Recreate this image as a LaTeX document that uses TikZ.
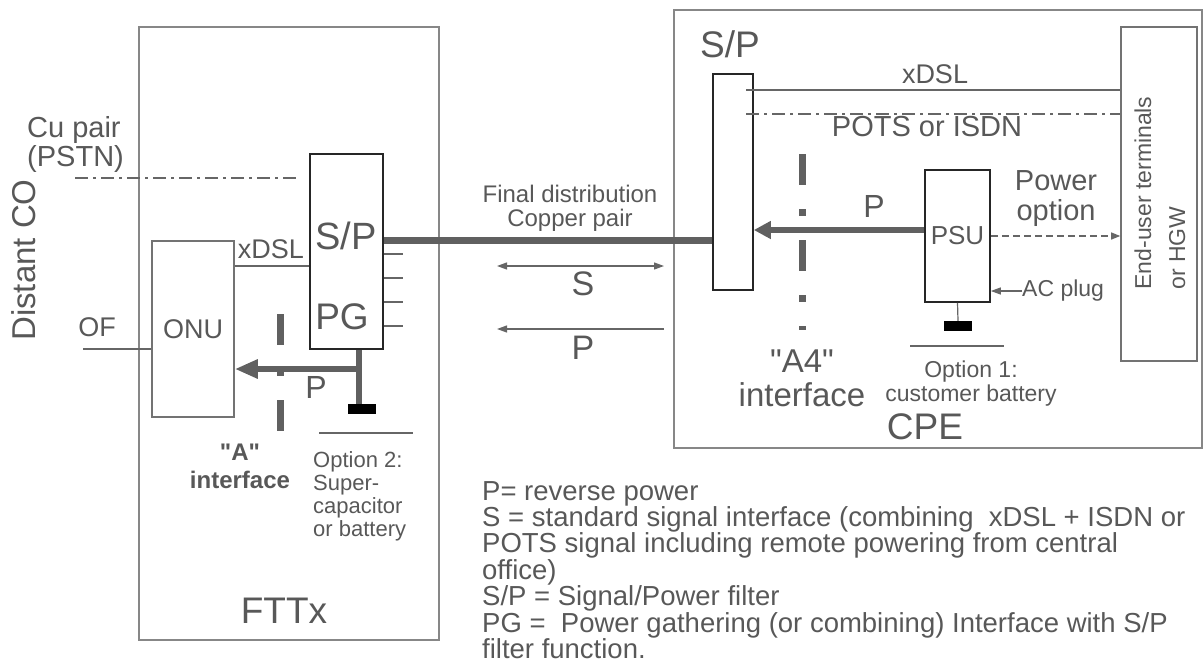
\documentclass[tikz,border=0pt]{standalone}
\usepackage{fontspec}
\setmainfont{Liberation Sans}[Ligatures=TeXOff]
\usetikzlibrary{positioning}
\usetikzlibrary{arrows.meta}
\definecolor{txtgray}{RGB}{88,88,88}
\definecolor{framegray}{RGB}{135,135,135}
\definecolor{powergray}{RGB}{96,96,96}
\tikzset{>=latex}
\tikzset{
  framebox/.style = {rectangle, draw=framegray, line width=1.8pt, inner sep=0pt},
  blockbox/.style = {rectangle, draw=black!85, line width=1.6pt, inner sep=0pt, text=txtgray},
  lbl/.style = {inner sep=0pt, text=txtgray},
  power/.style = {draw=powergray, line width=6.5pt},
  wire/.style = {draw=black!60, line width=1.2pt},
  sig/.style = {draw=black!60, line width=1.2pt, >={Triangle[length=10pt, width=7pt]}},
  dashdotline/.style = {draw=black!60, line width=1.3pt, dash pattern=on 13pt off 5pt on 3pt off 5pt},
  dashwire/.style = {draw=black!60, line width=1.2pt, dash pattern=on 7pt off 4pt, >={Triangle[length=9pt, width=7pt]}},
  iface/.style = {draw=powergray, line width=7pt, dash pattern=on 31pt off 24pt on 7pt off 24pt},
  bat/.style = {rectangle, fill=black, inner sep=0pt, minimum width=28pt, minimum height=10pt}
}
\newcommand{\fsz}[2]{\fontsize{#1}{#2}\selectfont}

\begin{document}
\begin{tikzpicture}[x=1pt, y=-1pt]
\useasboundingbox (0, 0) rectangle (1204, 664);

\node [framebox, minimum width=300pt, minimum height=613pt] (fttx) at (289, 333.5) {};
\node [framebox, minimum width=528pt, minimum height=438pt] (cpe) at (938, 229) {};
\node [blockbox, minimum width=73pt, minimum height=195pt] (spg) at (346.5, 251.5) {};
\node [blockbox, draw=black!55, minimum width=82pt, minimum height=176pt, font=\fsz{27}{30}] (onu) at (193, 329) {ONU};
\node [blockbox, minimum width=40pt, minimum height=216pt] (spc) at (733, 182) {};
\node [blockbox, minimum width=65pt, minimum height=132pt, font=\fsz{26}{28}] (psu) at (957.5, 236) {PSU};
\node [blockbox, draw=black!55, minimum width=76pt, minimum height=334pt] (eut) at (1159, 194) {};

\node [lbl, rotate=90, font=\fsz{33}{36}] (distco) at (24, 260) {Distant CO};
\node [lbl, align=left, anchor=west, font=\fsz{29}{29}] (cupair) at (27, 144) {Cu pair\\(PSTN)};
\node [lbl, font=\fsz{38}{40}] (splbl) at (346, 236) {S/P};
\node [lbl, font=\fsz{37}{40}] (pglbl) at (342, 317) {PG};
\node [lbl, font=\fsz{27}{30}] (xdsla) at (271, 249) {xDSL};
\node [lbl, font=\fsz{27}{30}] (oflbl) at (97, 327) {OF};
\node [lbl, font=\fsz{32}{34}] (pa) at (316, 387) {P};
\node [lbl, align=center, font=\bfseries\fsz{24}{28}] (aif) at (240, 466) {"A"\\interface};
\node [lbl, align=left, anchor=north west, font=\fsz{22}{23}] (opt2) at (313, 451) {Option 2:\\Super-\\capacitor\\or battery};
\node [lbl, font=\fsz{37}{40}] (fttxlbl) at (284, 611) {FTTx};

\node [lbl, align=center, font=\fsz{24}{24}] (fdist) at (570, 208) {Final distribution\\Copper pair};
\node [lbl, font=\fsz{34}{36}] (slbl) at (583, 284) {S};
\node [lbl, font=\fsz{34}{36}] (plbl) at (583, 348) {P};

\node [lbl, font=\fsz{37}{40}] (splbl2) at (730, 44) {S/P};
\node [lbl, font=\fsz{27}{30}] (xdslb) at (935, 74) {xDSL};
\node [lbl, font=\fsz{29}{30}] (pots) at (927, 127) {POTS or ISDN};
\node [lbl, font=\fsz{32}{34}] (pc) at (874, 206) {P};
\node [lbl, align=center, font=\fsz{29}{30}] (pwropt) at (1056, 199) {Power\\option};
\node [lbl, anchor=west, font=\fsz{23}{26}] (acplug) at (1022, 291) {AC plug};
\node [lbl, align=center, font=\fsz{33}{34}] (a4if) at (802, 378) {"A4"\\interface};
\node [lbl, align=center, font=\fsz{23}{24}] (opt1) at (971, 384) {Option 1:\\customer battery};
\node [lbl, font=\fsz{37}{40}] (cpelbl) at (925, 427) {CPE};
\node [lbl, rotate=90, align=left, font=\fsz{23}{34}] (eutlbl) at (1160, 193) {End-user terminals\\or HGW};

\node [lbl, align=left, anchor=north west, font=\fsz{27.5}{26.4}] (legend) at (482, 481) {P= reverse power\\S = standard signal interface (combining\ \ xDSL + ISDN or\\POTS signal including remote powering from central\\office)\\S/P = Signal/Power filter\\PG = \ Power gathering (or combining) Interface with S/P\\filter function.};

\coordinate (cuend) at (75, 178);
\coordinate (cutip) at (297, 178);
\draw [dashdotline] (cuend) to (cutip);

\coordinate (cpa) at ([yshift=11pt]spg.east);
\draw [power] (cpa) to (cpa -| spc.west);
\foreach \yy in {254, 278, 302, 326}
  \draw [wire] (spg.east |- 0, \yy) to ++(19, 0);

\draw [wire] (onu.east |- 0, 266) to (spg.west |- 0, 266);
\coordinate (ofin) at (83, 349);
\draw [wire] (ofin) to (ofin -| onu.west);

\node [bat] (bat2) at (362, 409) {};
\coordinate (pgout) at ([xshift=12.5pt]spg.south);
\draw [power] (pgout) to (pgout |- bat2.north);
\draw [power, -{Triangle[length=23pt, width=18pt]}] (pgout |- 0, 369) to (onu.east |- 0, 369);

\coordinate (atop) at (280, 314);
\coordinate (abot) at (280, 431);
\draw [iface] (atop) to (abot);
\coordinate (o2a) at (319, 433);
\coordinate (o2b) at (413, 433);
\draw [wire] (o2a) to (o2b);

\coordinate (sl) at (497, 266);
\coordinate (sr) at (664, 266);
\draw [sig, <->] (sl) to (sr);
\coordinate (pl) at (497, 329);
\coordinate (pr) at (664, 329);
\draw [sig, ->] (pr) to (pl);

\coordinate (xdsl2) at (746, 90);
\draw [wire] (xdsl2) to (xdsl2 -| eut.west);
\coordinate (pots2) at (746, 114);
\draw [dashdotline] (pots2) to (pots2 -| eut.west);

\coordinate (psuout) at ([yshift=6pt]psu.west);
\draw [power, -{Triangle[length=17pt, width=17pt]}] (psuout) to (psuout -| spc.east);
\draw [dashwire, ->] (psu.east) to (psu.east -| eut.west);
\draw [sig, ->] (acplug.west) to (acplug.west -| psu.east);

\node [bat] (bat1) at (958, 326) {};
\draw [wire] (psu.south) to (bat1.north);
\coordinate (o1a) at (910, 346);
\coordinate (o1b) at (1004, 346);
\draw [wire] (o1a) to (o1b);

\coordinate (a4top) at (802, 154);
\coordinate (a4bot) at (802, 330);
\draw [iface] (a4top) to (a4bot);
\end{tikzpicture}
\end{document}
